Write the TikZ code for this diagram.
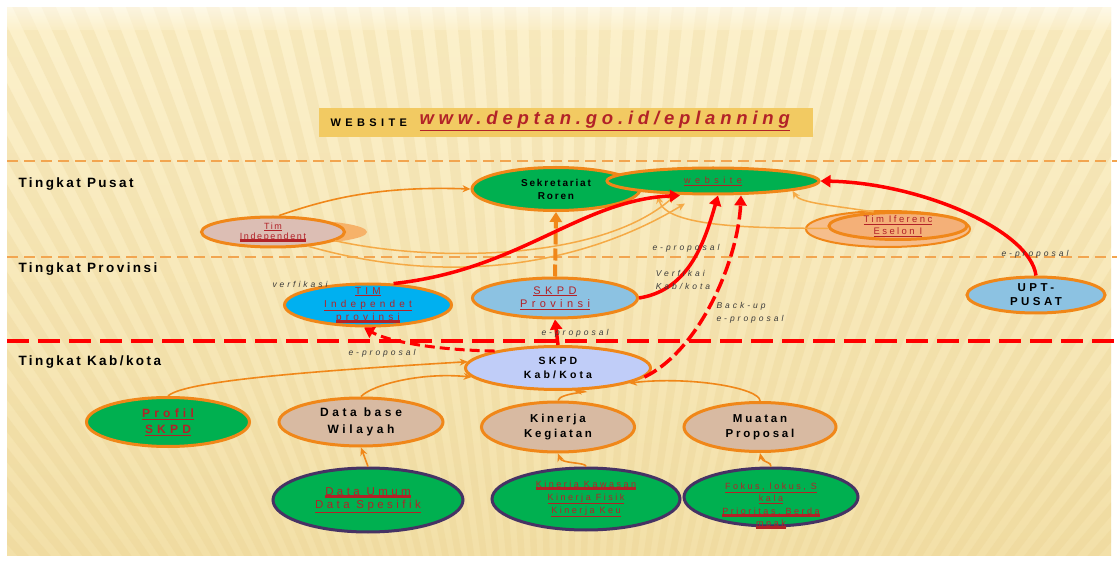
\documentclass[tikz,border=0pt]{standalone}
\usepackage{fontspec}
\setmainfont{Liberation Sans}[LetterSpace=18]
\usetikzlibrary{shapes.geometric,arrows.meta,calc}
\definecolor{orng}{RGB}{240,135,25}
\definecolor{lorng}{RGB}{245,170,70}
\definecolor{glow}{RGB}{246,178,105}
\definecolor{grn}{RGB}{0,176,80}
\definecolor{redtx}{RGB}{178,34,40}
\definecolor{redl}{RGB}{255,0,0}
\definecolor{purp}{RGB}{70,50,100}
\definecolor{tanf}{RGB}{216,186,162}
\definecolor{pinkf}{RGB}{220,190,180}
\definecolor{tinf}{RGB}{244,176,120}
\definecolor{tinfb}{RGB}{246,190,140}
\definecolor{lblue}{RGB}{140,194,226}
\definecolor{cyanf}{RGB}{0,176,240}
\definecolor{peri}{RGB}{192,205,248}
\definecolor{banner}{RGB}{242,202,98}
\definecolor{bgtop}{RGB}{252,241,204}
\definecolor{bgbot}{RGB}{243,224,168}
\definecolor{stripe}{RGB}{228,200,130}
\definecolor{labtx}{RGB}{60,60,60}
\definecolor{sepl}{RGB}{242,165,80}
\newcommand\tul[1]{\leavevmode\setbox0\hbox{#1}\rlap{\color{redtx}\rule[-2.5pt]{\wd0}{3pt}}\box0}
\begin{document}
\begin{tikzpicture}[x=1pt,y=-1pt,
 box/.style={ellipse, draw=orng, line width=3pt, inner sep=0pt},
 gbox/.style={ellipse, draw=purp, line width=3pt, fill=grn, inner sep=0pt},
 txt/.style={align=center, font=\bfseries\fontsize{10}{13}\selectfont},
 rtxt/.style={align=center, text=redtx, font=\fontsize{9}{13}\selectfont},
 lvl/.style={anchor=west, font=\bfseries\fontsize{13.5}{15}\selectfont},
 lab/.style={align=left, text=labtx, font=\itshape\fontsize{8.5}{13}\selectfont\addfontfeature{LetterSpace=35}},
 oarr/.style={draw=orng, line width=1.6pt, -{Stealth[length=8pt,width=7pt]}},
 larr/.style={draw=lorng, line width=1.5pt, -{Stealth[length=8pt,width=7pt]}},
 rarr/.style={draw=redl, line width=3.5pt, -{Triangle[length=10pt,width=12pt]}},
]
\useasboundingbox (0,0) rectangle (1117,561);
\fill[white] (0,0) rectangle (1117,561);
\shade[top color=bgtop,bottom color=bgbot] (7,8) rectangle (1111,555);
\begin{scope}
\clip (7,8) rectangle (1111,555);
\foreach \a in {200,201.2,...,340} \fill[stripe,opacity=0.2] (560,1150) -- +(\a:1500) -- +(\a+0.6:1500) -- cycle;
\shade[top color=white, bottom color=bgtop, opacity=0.5] (7,8) rectangle (1111,30);
\shade[top color=bgtop, bottom color=bgtop, opacity=0.0] (7,30) rectangle (1111,31);
\end{scope}

% banner
\fill[banner] (319,108) rectangle (813,137);
\node[anchor=west, font=\bfseries\fontsize{11}{12}\selectfont\addfontfeature{LetterSpace=40}] (wlab) at (327,123) {WEBSITE};
\node[anchor=west, text=redtx, font=\bfseries\itshape\fontsize{18.5}{19}\selectfont\addfontfeature{LetterSpace=26}] (url) at (416,121) {\underline{www.deptan.go.id/eplanning}};

% separators
\draw[sepl, line width=1.3pt, dash pattern=on 11pt off 6pt] (7,161) -- (1117,161);
\draw[sepl, line width=1.3pt, dash pattern=on 11pt off 6pt] (7,257) -- (1117,257);
\draw[redl, line width=4.5pt, dash pattern=on 22pt off 9pt] (7,341) -- (1117,341);

\node[lvl] (lp) at (15,184) {Tingkat Pusat};
\node[lvl] (lpr) at (15,269) {Tingkat Provinsi};
\node[lvl] (lk) at (15,362) {Tingkat Kab/kota};

% Pusat nodes
\node[box, fill=grn, minimum width=168pt, minimum height=43pt,
  label={[txt]center:{Sekretariat\\Roren}}] (sek) at (556,189) {};
\node[box, fill=grn, minimum width=212pt, minimum height=26pt,
  label={[text=redtx, font=\fontsize{9}{10}\selectfont\addfontfeature{LetterSpace=50}]center:{\underline{website}}}] (web) at (713,181) {};
\node[ellipse, fill=glow, minimum width=150pt, minimum height=24pt] (timindsh) at (292,232) {};
\node[box, fill=pinkf, minimum width=143pt, minimum height=30pt,
  label={[rtxt, font=\fontsize{9}{10}\selectfont]center:{\underline{Tim}\\\tul{Independent}}}] (timind) at (273,232) {};
\node[ellipse, draw=orng, line width=2pt, fill=tinfb, minimum width=164pt, minimum height=36pt] (timinfsh) at (888,229) {};
\node[box, fill=tinf, minimum width=138pt, minimum height=27pt,
  label={[rtxt, font=\fontsize{9.5}{12}\selectfont\addfontfeature{LetterSpace=25}]center:{\underline{Tim Iferenc}\\\underline{Eselon I}}}] (timinf) at (898,226) {};

% Provinsi nodes
\node[box, fill=lblue, minimum width=138pt, minimum height=36pt,
  label={[txt, font=\bfseries\fontsize{11.5}{14}\selectfont\addfontfeature{LetterSpace=30}]center:{UPT-\\PUSAT}}] (upt) at (1036,295) {};
\node[box, fill=cyanf, minimum width=167pt, minimum height=42pt,
  label={[rtxt, font=\fontsize{10}{13}\selectfont\addfontfeature{LetterSpace=42}]center:{\underline{TIM}\\\underline{Independet}\\\tul{provinsi}}}] (timprov) at (368,305) {};
\node[box, fill=lblue, minimum width=165pt, minimum height=40pt,
  label={[rtxt, font=\fontsize{11}{13.5}\selectfont\addfontfeature{LetterSpace=40}]center:{\underline{SKPD}\\\underline{Provinsi}}}] (skpdprov) at (555,298) {};

% Kab/kota nodes
\node[box, fill=peri, minimum width=185pt, minimum height=43pt,
  label={[txt, font=\bfseries\fontsize{10.5}{14.5}\selectfont\addfontfeature{LetterSpace=30}]center:{SKPD\\Kab/Kota}}] (skpdkab) at (558,368) {};
\node[box, fill=grn, minimum width=163pt, minimum height=49pt,
  label={[rtxt, font=\bfseries\fontsize{12}{16}\selectfont\addfontfeature{LetterSpace=35}]center:{\underline{Profil}\\\underline{SKPD}}}] (profil) at (168,422) {};
\node[box, fill=tanf, minimum width=164pt, minimum height=48pt,
  label={[txt, font=\bfseries\fontsize{12}{17}\selectfont\addfontfeature{LetterSpace=30}]center:{Data base\\Wilayah}}] (dbw) at (361,422) {};
\node[box, fill=tanf, minimum width=153pt, minimum height=50pt,
  label={[txt, font=\bfseries\fontsize{11.5}{15}\selectfont\addfontfeature{LetterSpace=24}]center:{Kinerja\\Kegiatan}}] (kinkeg) at (558,427) {};
\node[box, fill=tanf, minimum width=152pt, minimum height=49pt,
  label={[txt, font=\bfseries\fontsize{11.5}{15}\selectfont\addfontfeature{LetterSpace=24}]center:{Muatan\\Proposal}}] (muatan) at (760,427) {};

\node[gbox, minimum width=190pt, minimum height=64pt,
  label={[rtxt, font=\fontsize{11.5}{13}\selectfont\addfontfeature{LetterSpace=30}]center:{\tul{Data Umum}\\\underline{Data Spesifik}}}] (dataumum) at (368,500) {};
\node[gbox, minimum width=188pt, minimum height=62pt,
  label={[rtxt, font=\fontsize{9}{13}\selectfont\addfontfeature{LetterSpace=28}]center:{\tul{Kinerja Kawasan}\\\underline{Kinerja Fisik}\\\underline{Kinerja Keu}}}] (kinkaw) at (586,499) {};
\node[gbox, minimum width=174pt, minimum height=58pt,
  label={[rtxt, yshift=-9pt, font=\fontsize{9}{12.5}\selectfont\addfontfeature{LetterSpace=28}]center:{\underline{Fokus, lokus, S}\\\underline{kala}\\\tul{Prioritas, Berda}\\\tul{mpak}}}] (fokus) at (771,497) {};

% orange connectors
\draw[oarr] (profil.north) .. controls (185,380) and (330,370) .. (skpdkab.176);
\draw[oarr] (dbw.north) .. controls (372,385) and (420,372) .. (skpdkab.186);
\draw[oarr] (kinkeg.north) .. controls (560,392) and (600,392) .. (skpdkab.-55);
\draw[oarr] (muatan.north) .. controls (760,388) and (690,376) .. (skpdkab.-12);
\draw[oarr] (dataumum.north) -- (dbw.south);
\draw[oarr] (kinkaw.north) .. controls (586,462) and (562,464) .. (kinkeg.south);
\draw[oarr] (fokus.north) .. controls (772,462) and (762,462) .. (muatan.south);
\draw[oarr] (timind.70) .. controls (330,198) and (380,186) .. (sek.west);
\draw[larr] (timind.-8) .. controls (430,262) and (600,262) .. ($(web.south)+(-38,0)$);
\draw[larr] (timind.-22) .. controls (470,292) and (600,255) .. ($(web.south)+(-28,8)$);
\draw[larr] (timinf.182) .. controls (760,228) and (665,228) .. ($(web.south)+(-55,0)$);
\draw[larr] (timinf.150) .. controls (830,205) and (800,203) .. (web.-7);
\draw[draw=orng, line width=4pt, dash pattern=on 12pt off 4pt, -{Triangle[length=10pt,width=12pt]}] (skpdprov.north) -- (sek.south);

% red connectors
\draw[rarr] (timprov.40) .. controls (520,270) and (580,200) .. ($(web.south)+(-33,0)$);
\draw[rarr] (skpdprov.east) .. controls (690,290) and (705,240) .. ($(web.south)+(5,0)$);
\draw[rarr, dash pattern=on 14pt off 5pt] (skpdkab.-6) .. controls (700,350) and (738,260) .. ($(web.south)+(28,0)$);
\draw[rarr] (upt.north) .. controls (1030,230) and (920,183) .. (web.east);
\draw[rarr] (skpdkab.north) -- (skpdprov.south);
\draw[rarr, line width=3pt, dash pattern=on 10pt off 5pt] (skpdkab.165) .. controls (430,350) and (385,340) .. (timprov.-100);

% labels
\node[lab] (l1) at (300,284) {verfikasi};
\node[lab] (l2) at (686,248) {e-proposal};
\node[lab] (l3) at (683,280) {Verfikai\\Kab/kota};
\node[lab] (l4) at (750,313) {Back-up\\e-proposal};
\node[lab] (l5) at (1035,254) {e-proposal};
\node[lab] (l6) at (575,333) {e-proposal};
\node[lab] (l7) at (382,353) {e-proposal};
\end{tikzpicture}
\end{document}
